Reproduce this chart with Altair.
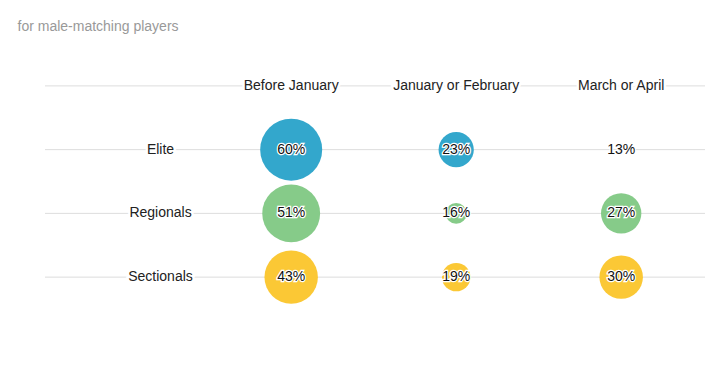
import altair as alt
import pandas as pd

rows = ["Elite", "Regionals", "Sectionals"]
cols = ["Before January", "January or February", "March or April"]
elite = [60, 23, 13]
regionals = [51, 16, 27]
sectionals = [43, 19, 30]
colors = ["#33a7cc", "#86cb89", "#fbc835"]
title_text = "for male-matching players"

records = []
for r, vals in zip(rows, [elite, regionals, sectionals]):
    for c, v in zip(cols, vals):
        records.append({"row": r, "period": c, "pct": v, "label": f"{v}%"})
df = pd.DataFrame(records)

ydomain = ["header"] + rows
grid_df = pd.DataFrame({"row": ydomain})
head_df = pd.DataFrame({"period": cols, "row": ["header"] * len(cols)})
rowlab_df = pd.DataFrame({"row": rows})

FONT = "Liberation Sans"
y_scale = alt.Scale(type="point", domain=ydomain, padding=0.5)
x_scale = alt.Scale(type="point", domain=cols, padding=1.006, align=0.746)

Y = alt.Y("row:N", scale=y_scale, axis=None)
X = alt.X("period:N", scale=x_scale, axis=None)

grid = alt.Chart(grid_df).mark_rule(color="#dddddd", strokeWidth=1).encode(y=Y)

head_halo = alt.Chart(head_df).mark_text(
    font=FONT, fontSize=14, stroke="white", strokeWidth=5, color="white", baseline="middle"
).encode(x=X, y=Y, text="period:N")
head = alt.Chart(head_df).mark_text(
    font=FONT, fontSize=14, color="#222222", baseline="middle"
).encode(x=X, y=Y, text="period:N")

row_halo = alt.Chart(rowlab_df).mark_text(
    font=FONT, fontSize=14, stroke="white", strokeWidth=5, color="white", baseline="middle"
).encode(x=alt.value(115.5), y=Y, text="row:N")
row_txt = alt.Chart(rowlab_df).mark_text(
    font=FONT, fontSize=14, color="#222222", baseline="middle"
).encode(x=alt.value(115.5), y=Y, text="row:N")

bubbles = alt.Chart(df).mark_circle(opacity=1).encode(
    x=X,
    y=Y,
    size=alt.Size("pct:Q", scale=alt.Scale(type="pow", exponent=0.3, zero=False, domain=[13, 60], range=[16, 3844]), legend=None),
    color=alt.Color("row:N", scale=alt.Scale(domain=rows, range=colors), legend=None),
)

pct_halo = alt.Chart(df).mark_text(
    font=FONT, fontSize=14, stroke="white", strokeWidth=2.5, color="white", baseline="middle"
).encode(x=X, y=Y, text="label:N")
pct_txt = alt.Chart(df).mark_text(
    font=FONT, fontSize=14, color="#111111", baseline="middle"
).encode(x=X, y=Y, text="label:N")

chart = alt.layer(
    grid, head_halo, head, row_halo, row_txt, bubbles, pct_halo, pct_txt
).properties(
    width=660,
    height=255,
    title=alt.TitleParams(
        title_text, anchor="start", fontSize=14, color="#999999",
        fontWeight="normal", font=FONT, dx=-27, offset=20,
    ),
    autosize=alt.AutoSizeParams(type="none"),
    padding={"left": 37, "top": 46, "right": 9, "bottom": 56},
).configure_view(stroke=None)

chart.save("out.html", embed_options={"renderer": "svg", "actions": False})
